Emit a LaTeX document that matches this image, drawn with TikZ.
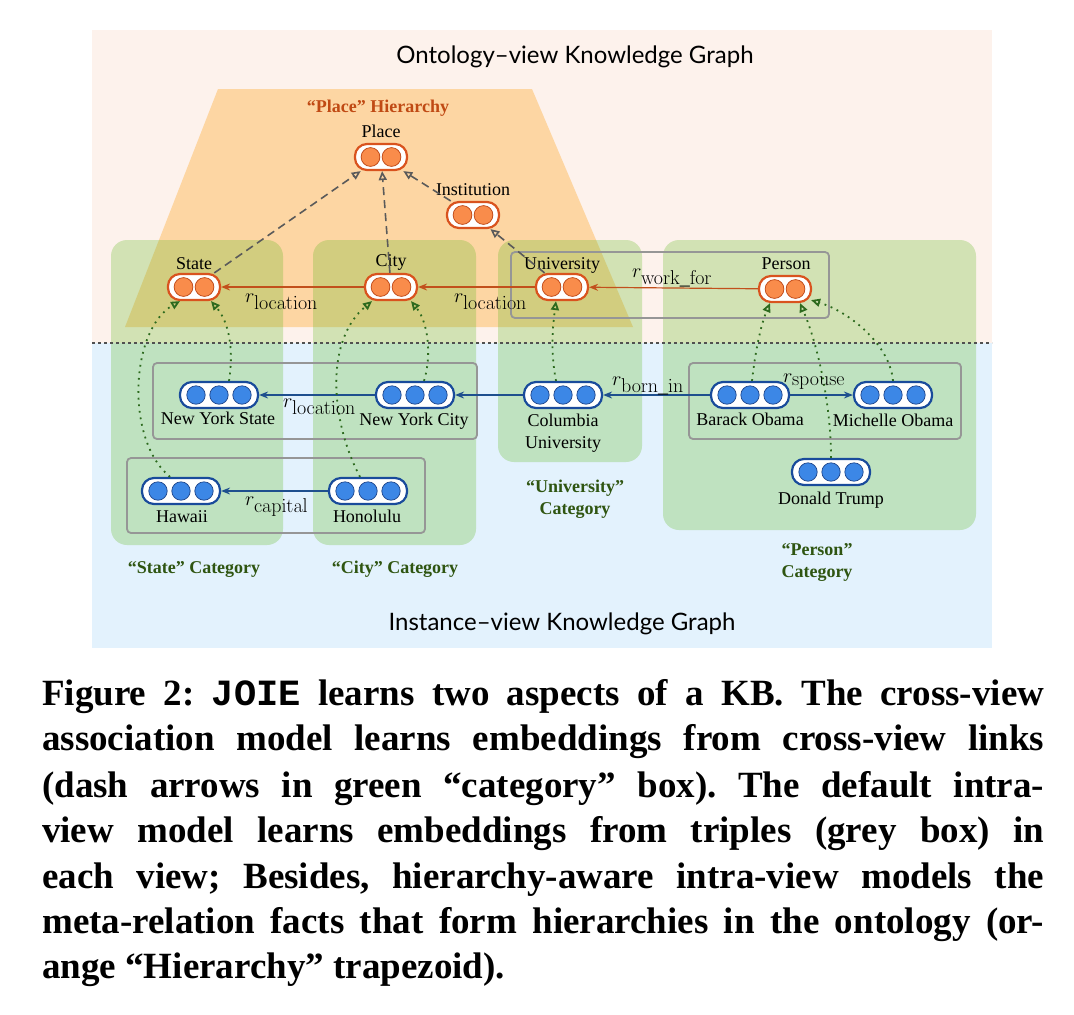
\RequirePackage{fix-cm}
\documentclass[tikz,border=0pt]{standalone}
\usepackage[no-math]{fontspec}
\setmainfont{Liberation Serif}
\newfontfamily\titlefont{Lato}
\newfontfamily\capfont{Liberation Serif}
\newfontfamily\capmono{Liberation Mono}
\usetikzlibrary{arrows.meta}
\definecolor{pinkbg}{RGB}{253,242,236}
\definecolor{bluebg}{RGB}{227,242,253}
\definecolor{trapc}{RGB}{253,214,163}
\definecolor{catgreen}{RGB}{100,185,35}
\definecolor{greyline}{RGB}{150,150,150}
\definecolor{ontoline}{RGB}{217,83,30}
\definecolor{ontofill}{RGB}{249,140,75}
\definecolor{ontodark}{RGB}{190,70,20}
\definecolor{instline}{RGB}{25,75,155}
\definecolor{instfill}{RGB}{60,135,230}
\definecolor{instdark}{RGB}{30,70,140}
\definecolor{orelc}{RGB}{194,80,28}
\definecolor{irelc}{RGB}{30,79,142}
\definecolor{hierc}{RGB}{90,90,90}
\definecolor{xviewc}{RGB}{45,106,30}
\definecolor{catlabc}{RGB}{47,85,17}
\definecolor{hierlabc}{RGB}{192,74,20}
\definecolor{sepc}{RGB}{80,80,80}
\begin{document}
\frenchspacing
\begin{tikzpicture}[x=1pt,y=-1pt,
  onto/.style={draw=ontoline, fill=white, line width=2.2pt, rounded corners=12pt,
    minimum width=52pt, minimum height=26pt, inner sep=0pt,
    path picture={\foreach \dx in {-10.5,10.5}
      \draw[fill=ontofill, draw=ontodark, line width=0.7pt] ([xshift=\dx pt]path picture bounding box.center) circle (9.4pt);}},
  insn/.style={draw=instline, fill=white, line width=2.2pt, rounded corners=12pt,
    minimum width=78pt, minimum height=26pt, inner sep=0pt,
    path picture={\foreach \dx in {-23,0,23}
      \draw[fill=instfill, draw=instdark, line width=0.7pt] ([xshift=\dx pt]path picture bounding box.center) circle (9.2pt);}},
  catbox/.style={fill=catgreen, fill opacity=0.28, rounded corners=16pt},
  greybox/.style={draw=greyline, line width=1.8pt, rounded corners=4pt},
  sepline/.style={draw=sepc, line width=1.4pt, dash pattern=on 3pt off 3pt},
  orel/.style={draw=orelc, line width=1.2pt, -{Stealth[length=9pt,width=7pt]}},
  irel/.style={draw=irelc, line width=1.2pt, -{Stealth[length=9pt,width=7pt]}},
  hier/.style={draw=hierc, line width=1.6pt, dash pattern=on 8pt off 5pt, -{Triangle[open,length=9pt,width=8pt]}},
  xview/.style={draw=xviewc, line width=1.8pt, dash pattern=on 1.8pt off 4.8pt, -{Triangle[open,length=9pt,width=8pt]}},
  lab/.style={anchor=base, inner sep=0pt, font=\fontsize{18}{21}\selectfont},
  rlab/.style={anchor=base west, inner sep=0pt, font=\fontsize{20}{24}\selectfont},
  catlab/.style={anchor=base, inner sep=0pt, text=catlabc, font=\fontsize{18}{21}\selectfont\bfseries},
  hierlab/.style={anchor=base, inner sep=0pt, text=hierlabc, font=\fontsize{18}{21}\selectfont\bfseries},
  titlelab/.style={anchor=base, inner sep=0pt, font=\titlefont\fontsize{24}{28}\selectfont},
  capline/.style={anchor=base west, inner sep=0pt, font=\capfont\fontsize{37}{44}\selectfont\bfseries}
]
\useasboundingbox (0,0) rectangle (1074,1015);
\fill[white] (0,0) rectangle (1074,1015);
% backgrounds
\fill[pinkbg] (92,30) rectangle (992,343);
\fill[bluebg] (92,343) rectangle (992,648);
\fill[trapc] (218,89) -- (532,89) -- (633,327) -- (125,327) -- cycle;
\fill[catbox] (111,240) rectangle (283,545);
\fill[catbox] (313,240) rectangle (476,545);
\fill[catbox] (498,240) rectangle (642,462);
\fill[catbox] (663,240) rectangle (976,530);
\draw[sepline] (92,343) -- (992,343);
\draw[greybox] (511,252) rectangle (829,318);
\draw[greybox] (689,363) rectangle (961,439);
\draw[greybox] (153,363) rectangle (477,439);
\draw[greybox] (127,458) rectangle (425,533);
% titles
\node[titlelab] (ontT) at (575,63) {Ontology–view Knowledge Graph};
\node[titlelab] (insT) at (562,630) {Instance–view Knowledge Graph};
\node[hierlab] (plH) at (378,112) {“Place” Hierarchy};
% ontology nodes
\node[onto] (place) at (381,157) {};
\node[onto] (inst) at (473,215) {};
\node[onto] (state) at (194,287) {};
\node[onto] (city) at (391,287) {};
\node[onto] (univ) at (562,287) {};
\node[onto] (person) at (785,289) {};
% instance nodes
\node[insn] (nys) at (219,395) {};
\node[insn] (nyc) at (415,395) {};
\node[insn] (hawaii) at (181,491) {};
\node[insn] (honolulu) at (368,491) {};
\node[insn] (columbia) at (563,395) {};
\node[insn] (barack) at (750,395) {};
\node[insn] (michelle) at (893,395) {};
\node[insn] (trump) at (831,472) {};
% node labels
\node[lab] (placeL) at (381,137) {Place};
\node[lab] (instL) at (473,195) {Institution};
\node[lab] (stateL) at (194,269) {State};
\node[lab] (cityL) at (391,266) {City};
\node[lab] (univL) at (562,269) {University};
\node[lab] (personL) at (786,269) {Person};
\node[lab] (nysL) at (218,424) {New York State};
\node[lab] (nycL) at (414,425) {New York City};
\node[lab] (hawaiiL) at (182,522) {Hawaii};
\node[lab] (honoluluL) at (367,522) {Honolulu};
\node[lab] (columbiaL1) at (563,426) {Columbia};
\node[lab] (columbiaL2) at (563,448) {University};
\node[lab] (barackL) at (750,425) {Barack Obama};
\node[lab] (michelleL) at (893,426) {Michelle Obama};
\node[lab] (trumpL) at (831,504) {Donald Trump};
% category labels
\node[catlab] (stC) at (194,573) {“State” Category};
\node[catlab] (ciC) at (395,573) {“City” Category};
\node[catlab] (unC1) at (575,492) {“University”};
\node[catlab] (unC2) at (575,514) {Category};
\node[catlab] (peC1) at (817,555) {“Person”};
\node[catlab] (peC2) at (817,577) {Category};
% ontology relations
\draw[orel] (city) -- (state);
\draw[orel] (univ) -- (city);
\draw[orel] (person) -- (univ);
% hierarchy
\draw[hier] (state) -- (place);
\draw[hier] (city) -- (place);
\draw[hier] (inst) -- (place);
\draw[hier] (univ) -- (inst);
% instance relations
\draw[irel] (nyc) -- (nys);
\draw[irel] (columbia) -- (nyc);
\draw[irel] (honolulu) -- (hawaii);
\draw[irel] (barack) -- (columbia);
\draw[irel] (barack) -- (michelle);
% cross-view links
\draw[xview] ([xshift=-11pt]hawaii.north) .. controls (125,440) and (130,330) .. ([xshift=-14pt]state.south);
\draw[xview] ([xshift=10pt]nys.north) .. controls (234,350) and (229,322) .. ([xshift=17pt]state.south);
\draw[xview] ([xshift=-8pt]honolulu.north) .. controls (330,420) and (325,340) .. ([xshift=-19pt]city.south);
\draw[xview] ([xshift=9pt]nyc.north) .. controls (432,355) and (428,322) .. ([xshift=20pt]city.south);
\draw[xview] ([xshift=-7pt]columbia.north) .. controls (550,350) and (553,325) .. ([xshift=-6pt]univ.south);
\draw[xview] ([xshift=2pt]barack.north) .. controls (756,345) and (762,322) .. ([xshift=-15pt]person.south);
\draw[xview] (trump.north) .. controls (831,405) and (818,345) .. ([xshift=15pt]person.south);
\draw[xview] (michelle.north) .. controls (890,345) and (850,312) .. ([xshift=-1pt,yshift=3pt]person.south east);
% relation labels
\node[rlab] (rl1) at (245,302) {$r_{\textstyle\mathrm{location}}$};
\node[rlab] (rl2) at (454,302) {$r_{\textstyle\mathrm{location}}$};
\node[rlab] (rwf) at (632,277) {$r_{\textstyle\mathrm{work\_for}}$};
\node[rlab] (rl3) at (283,407) {$r_{\textstyle\mathrm{location}}$};
\node[rlab] (rcap) at (245,505) {$r_{\textstyle\mathrm{capital}}$};
\node[rlab] (rbi) at (612,385) {$r_{\textstyle\mathrm{born\_in}}$};
\node[rlab] (rsp) at (783,382) {$r_{\textstyle\mathrm{spouse}}$};
% caption
\node[capline] (cap1) at (42,705) {\makebox[1002pt][s]{Figure 2: {\capmono JOIE} learns two aspects of a KB. The cross-view}};
\node[capline] (cap2) at (42,750) {\makebox[1002pt][s]{association model learns embeddings from cross-view links}};
\node[capline] (cap3) at (42,797) {\makebox[1002pt][s]{(dash arrows in green “category” box). The default intra-}};
\node[capline] (cap4) at (42,842) {\makebox[1002pt][s]{view model learns embeddings from triples (grey box) in}};
\node[capline] (cap5) at (42,888) {\makebox[1002pt][s]{each view; Besides, hierarchy-aware intra-view models the}};
\node[capline] (cap6) at (42,933) {\makebox[1002pt][s]{meta-relation facts that form hierarchies in the ontology (or-}};
\node[capline] (cap7) at (42,978) {ange “Hierarchy” trapezoid).};
\end{tikzpicture}
\end{document}
